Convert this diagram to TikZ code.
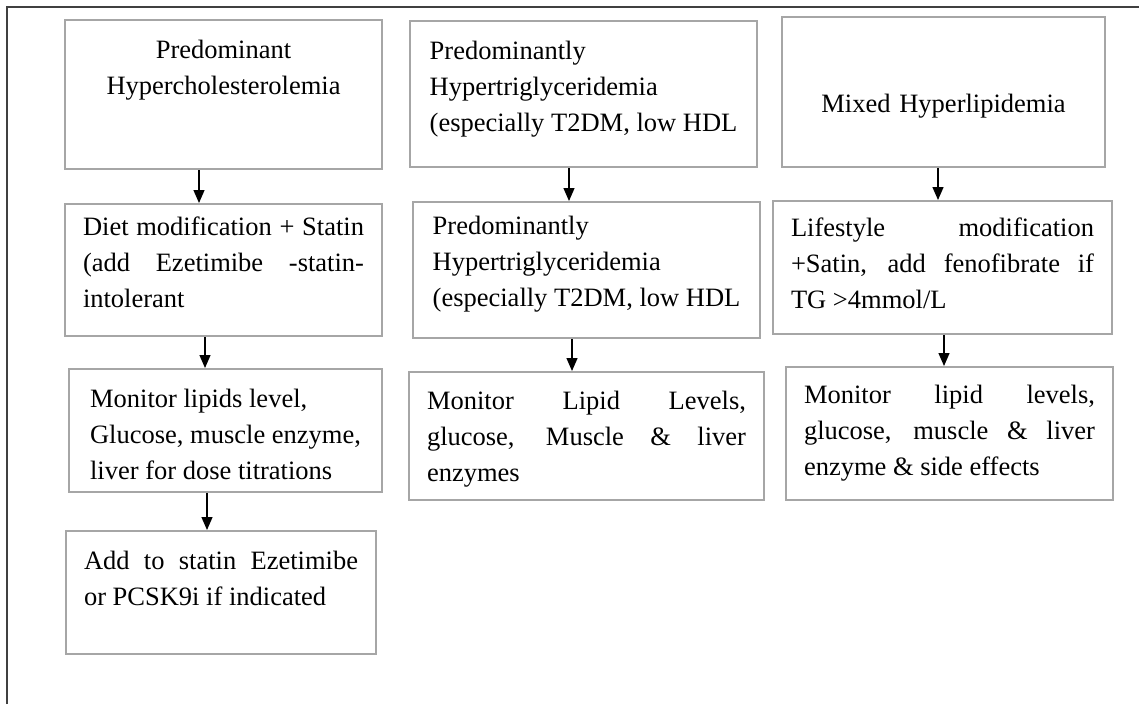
\documentclass[tikz,border=0pt]{standalone}
\usepackage{fontspec}
\setmainfont{Liberation Serif}
\usepackage{tikz}
\usetikzlibrary{arrows.meta,positioning}
\definecolor{BoxGray}{HTML}{A6A6A6}
\definecolor{FrameGray}{HTML}{404040}
\tolerance=10000
\hbadness=10000

\begin{document}
\begin{tikzpicture}[
    x=1pt, y=-1pt,
    stage/.style={draw=BoxGray, line width=2pt, anchor=north west,
        inner xsep=18pt, inner ysep=0pt, text height=38pt,
        font=\fontsize{26.5}{36}\selectfont},
    frame/.style={draw=FrameGray, line width=1.5pt},
    flow/.style={-{Triangle[length=13pt,width=11pt]}, line width=1.3pt, draw=black}
]
\useasboundingbox (0,0) rectangle (1139,704);
\draw[frame] (7,704) -- (7,7) -- (1139,7);
% left column
\node[stage, text width=281pt, align=center, text depth=111pt] (hyperchol) at (64,19)
    {Predominant\\Hypercholesterolemia};
\node[stage, text width=281pt, align=justify, text height=31pt, text depth=101pt] (dietstatin) at (64,203)
    {Diet modification + Statin\linebreak (add Ezetimibe -statin-\linebreak intolerant};
\node[stage, minimum width=313pt, align=left, text height=110pt, text depth=13pt] (monitorA) at (68,368)
    {Monitor lipids level,\\Glucose, muscle enzyme,\\liver for dose titrations};
\node[stage, text width=274pt, align=justify, text depth=85pt] (addstatin) at (65,530)
    {Add to statin Ezetimibe\linebreak or PCSK9i if indicated};
% middle column
\node[stage, minimum width=347pt, align=left, text height=110pt, text depth=36pt] (hypertgA) at (409,20)
    {Predominantly\\Hypertriglyceridemia\\(especially T2DM, low HDL};
\node[stage, minimum width=347pt, align=left, text height=104pt, text depth=32pt] (hypertgB) at (412,201)
    {Predominantly\\Hypertriglyceridemia\\(especially T2DM, low HDL};
\node[stage, text width=319pt, align=justify, text height=37pt, text depth=91pt] (monitorB) at (408,371)
    {Monitor Lipid Levels,\linebreak glucose, Muscle \& liver\linebreak enzymes};
% right column
\node[stage, text width=287pt, align=center, text height=95pt, text depth=55pt] (mixed) at (781,16)
    {Mixed Hyperlipidemia};
\node[stage, text width=303pt, align=justify, text height=35pt, text depth=98pt] (lifestyle) at (772,200)
    {Lifestyle modification\linebreak +Satin, add fenofibrate if\linebreak TG >4mmol/L};
\node[stage, text width=291pt, align=justify, text height=36pt, text depth=97pt] (monitorC) at (785,366)
    {Monitor lipid levels,\linebreak glucose, muscle \& liver\linebreak enzyme \& side effects};
\foreach \a/\b/\dx in {hyperchol/dietstatin/-24.5, dietstatin/monitorA/-18.5, monitorA/addstatin/-18.5,
    hypertgA/hypertgB/-14.5, hypertgB/monitorB/-14.5, mixed/lifestyle/-5.5, lifestyle/monitorC/1.5}
    {\draw[flow] ([xshift=\dx pt]\a.south) -- ([xshift=\dx pt]\a.south |- \b.north);}
\end{tikzpicture}
\end{document}
